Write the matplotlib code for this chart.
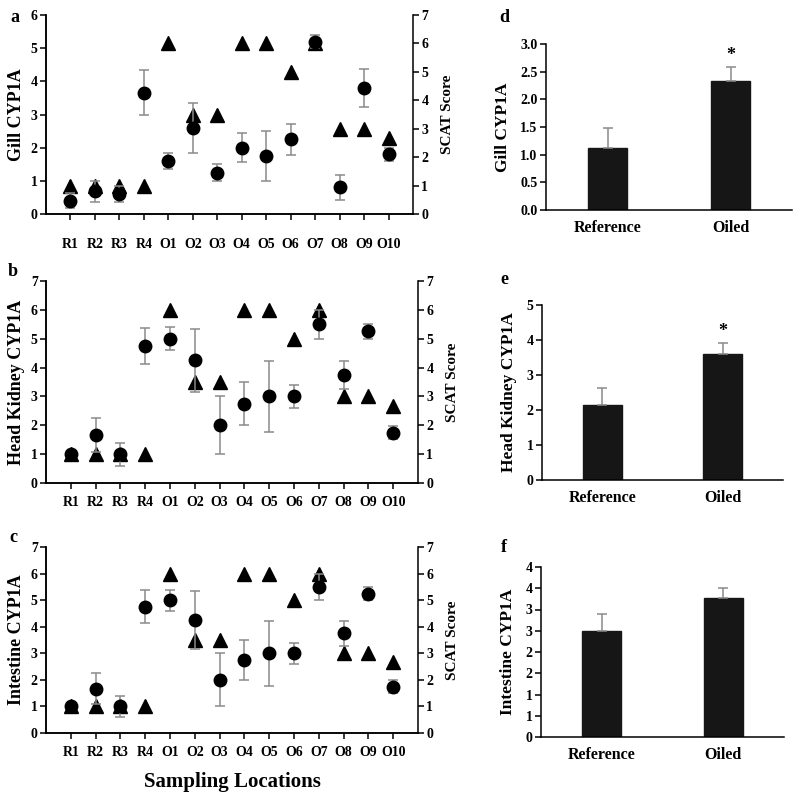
import numpy as np
import matplotlib.pyplot as plt

plt.rcParams['font.family'] = ['Liberation Serif', 'DejaVu Serif']
plt.rcParams['font.weight'] = 'bold'
plt.rcParams['axes.labelweight'] = 'bold'
plt.rcParams['axes.linewidth'] = 1.1

# data
sites = ['R1', 'R2', 'R3', 'R4', 'O1', 'O2', 'O3', 'O4', 'O5', 'O6', 'O7', 'O8', 'O9', 'O10']
scat_score = [1, 1, 1, 1, 6, 3.5, 3.5, 6, 6, 5, 6, 3, 3, 2.67]

gill_mean = [0.40, 0.68, 0.60, 3.66, 1.60, 2.60, 1.25, 2.00, 1.75, 2.25, 5.20, 0.80, 3.80, 1.80]
gill_err = [0.23, 0.32, 0.24, 0.67, 0.24, 0.75, 0.25, 0.44, 0.75, 0.47, 0.20, 0.38, 0.58, 0.19]

kidney_mean = [1.00, 1.67, 1.00, 4.75, 5.00, 4.25, 2.00, 2.75, 3.00, 3.00, 5.50, 3.75, 5.25, 1.75]
kidney_err = [0.05, 0.58, 0.40, 0.62, 0.40, 1.10, 1.00, 0.75, 1.22, 0.40, 0.50, 0.48, 0.25, 0.24]

intestine_mean = [1.00, 1.67, 1.00, 4.75, 5.00, 4.25, 2.00, 2.75, 3.00, 3.00, 5.50, 3.75, 5.25, 1.75]
intestine_err = [0.05, 0.58, 0.40, 0.62, 0.40, 1.10, 1.00, 0.75, 1.22, 0.40, 0.50, 0.48, 0.25, 0.24]

groups = ['Reference', 'Oiled']
gill_group = [1.12, 2.34]
gill_group_err = [0.36, 0.24]
kidney_group = [2.13, 3.61]
kidney_group_err = [0.49, 0.30]
intestine_group = [2.50, 3.26]
intestine_group_err = [0.40, 0.24]
intestine_tick_labels = ['0', '1', '1', '2', '2', '3', '3', '4', '4']

W, H = 800, 795
fig = plt.figure(figsize=(W / 100, H / 100), dpi=100)


def box(x0, y0, x1, y1):
    # pixel box (top-left origin) -> figure fraction
    return [x0 / W, 1 - y1 / H, (x1 - x0) / W, (y1 - y0) / H]


def scatter_panel(rect, mean, err, ymax, ylabel, letter, lpos, xpad=5):
    ax = fig.add_axes(rect)
    tw = ax.twinx()
    x = np.arange(1, len(sites) + 1)
    tw.plot(x, scat_score, '^', color='black', ms=9.5, mec='black')
    ax.errorbar(x, mean, yerr=err, fmt='o', color='black', ms=9,
                ecolor='#8a8a8a', elinewidth=1.1, capsize=3.5, capthick=1.1)
    ax.set_zorder(tw.get_zorder() + 1)
    ax.patch.set_visible(False)
    ax.set_xlim(0, 15)
    ax.set_ylim(0, ymax)
    tw.set_ylim(0, 7)
    ax.set_yticks(range(ymax + 1))
    tw.set_yticks(range(8))
    ax.set_xticks(x)
    ax.set_xticklabels(sites, fontsize=8.5)
    for a in (ax, tw):
        a.spines['top'].set_visible(False)
        a.tick_params(direction='out', length=4, width=1.1, labelsize=10, pad=2)
    ax.tick_params(axis='x', length=4, pad=xpad)
    ax.spines['right'].set_visible(False)
    ax.set_ylabel(ylabel, fontsize=13, labelpad=4)
    tw.set_ylabel('SCAT Score', fontsize=11, labelpad=9)
    fig.text(lpos[0] / W, 1 - lpos[1] / H, letter, fontsize=13, ha='center', va='center')
    return ax


def bar_panel(rect, vals, errs, ymax, step, ylabel, letter, lpos, star, ticklabels=None):
    ax = fig.add_axes(rect)
    x = np.arange(len(groups))
    ax.bar(x, vals, width=0.32, color='#161616', edgecolor='#161616')
    ax.errorbar(x, vals, yerr=[np.zeros(len(vals)), errs], fmt='none',
                ecolor='#8a8a8a', elinewidth=1.1, capsize=3.5, capthick=1.1)
    ax.set_xlim(-0.5, 1.5)
    ax.set_ylim(0, ymax)
    ticks = np.arange(0, ymax + step / 2, step)
    ax.set_yticks(ticks)
    if ticklabels is not None:
        ax.set_yticklabels(ticklabels)
    elif step < 1:
        ax.set_yticklabels(['%.1f' % t for t in ticks])
    ax.set_xticks(x)
    ax.set_xticklabels(groups, fontsize=11.5)
    ax.spines['top'].set_visible(False)
    ax.spines['right'].set_visible(False)
    ax.tick_params(axis='y', direction='out', length=4, width=1.1, labelsize=10, pad=2)
    ax.tick_params(axis='x', length=0, pad=7)
    ax.set_ylabel(ylabel, fontsize=12.5, labelpad=7)
    if star:
        ax.text(1, vals[1] + errs[1] + ymax * 0.02, '*', ha='center', va='bottom', fontsize=13)
    fig.text(lpos[0] / W, 1 - lpos[1] / H, letter, fontsize=13, ha='center', va='center')
    return ax


scatter_panel(box(46, 15, 413, 214), gill_mean, gill_err, 6, 'Gill CYP1A', 'a', (15, 17), xpad=13)
scatter_panel(box(46, 281, 418, 483), kidney_mean, kidney_err, 7, 'Head Kidney CYP1A', 'b', (13, 272))
axc = scatter_panel(box(46, 547, 418, 733), intestine_mean, intestine_err, 7, 'Intestine CYP1A', 'c', (13, 538))
axc.set_xlabel('Sampling Locations', fontsize=15, labelpad=10)

bar_panel(box(546, 44, 792, 210), gill_group, gill_group_err, 3.0, 0.5, 'Gill CYP1A', 'd', (504, 17), True)
bar_panel(box(542, 305, 783, 480), kidney_group, kidney_group_err, 5, 1, 'Head Kidney CYP1A', 'e', (504, 280), True)
bar_panel(box(541, 567, 784, 737), intestine_group, intestine_group_err, 4, 0.5, 'Intestine CYP1A', 'f', (504, 547), False,
          ticklabels=intestine_tick_labels)

fig.savefig('out.png', dpi=100)
